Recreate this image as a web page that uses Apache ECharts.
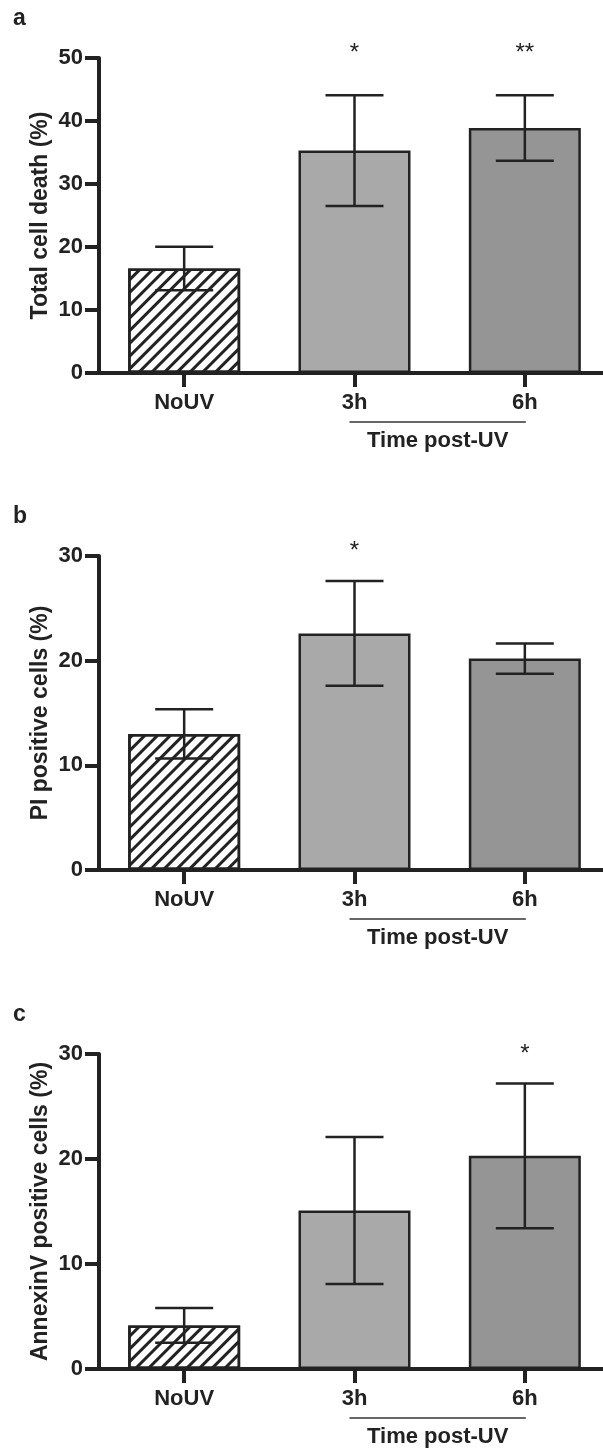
<!DOCTYPE html>
<html>
<head>
<meta charset="utf-8">
<script src="https://cdn.jsdelivr.net/npm/echarts@6/dist/echarts.min.js"></script>
<style>
  html, body { margin: 0; padding: 0; background: #fff; overflow: hidden; }
  #chart { width: 620px; height: 1451px; }
</style>
</head>
<body>
<div id="chart"></div>
<script>
// categories and values (mean and error)
const categories = ['NoUV', '3h', '6h']
const totalDeathMean = [16.6, 35.3, 38.9]
const totalDeathErr = [3.45, 8.8, 5.2]
const piMean = [13.0, 22.6, 20.2]
const piErr = [2.35, 5.0, 1.45]
const annexinMean = [4.15, 15.1, 20.3]
const annexinErr = [1.65, 7.0, 6.9]
const starsA = ['', '*', '**']
const starsB = ['', '*', '']
const starsC = ['', '', '*']
const yTicksTotal = [0, 10, 20, 30, 40, 50]
const yTicksCells = [0, 10, 20, 30]

const FONT = '"Liberation Sans", Arial, Helvetica, sans-serif'
const INK = '#222222'
const barColors = ['#ffffff', '#a9a9a9', '#959595']

const panels = [
  { letter: 'a', name: 'Total cell death (%)', mean: totalDeathMean, err: totalDeathErr, stars: starsA, ticks: yTicksTotal, top: 58, height: 315, starGap: 42 },
  { letter: 'b', name: 'PI positive cells (%)', mean: piMean, err: piErr, stars: starsB, ticks: yTicksCells, top: 556, height: 314, starGap: 30 },
  { letter: 'c', name: 'AnnexinV positive cells (%)', mean: annexinMean, err: annexinErr, stars: starsC, ticks: yTicksCells, top: 1054, height: 315, starGap: 29 }
]

const hatch = {
  symbol: 'rect',
  symbolSize: 1,
  color: INK,
  dashArrayX: [1, 0],
  dashArrayY: [2.5, 5.5],
  rotation: -Math.PI / 4
}

function errorRenderer (stars, starGap) {
  return function (params, api) {
    const x = api.value(0)
    const m = api.value(1)
    const e = api.value(2)
    const hi = api.coord([x, m + e])
    const lo = api.coord([x, m - e])
    const cx = hi[0]
    const hw = 29
    const st = { stroke: INK, lineWidth: 2.5 }
    const children = [
      { type: 'line', shape: { x1: cx, y1: hi[1], x2: cx, y2: lo[1] }, style: st },
      { type: 'line', shape: { x1: cx - hw, y1: hi[1], x2: cx + hw, y2: hi[1] }, style: st },
      { type: 'line', shape: { x1: cx - hw, y1: lo[1], x2: cx + hw, y2: lo[1] }, style: st }
    ]
    const s = stars[params.dataIndex]
    if (s) {
      children.push({
        type: 'text',
        x: cx,
        y: hi[1] - starGap,
        style: { text: s, fill: INK, font: '24px ' + FONT, align: 'center', verticalAlign: 'middle' }
      })
    }
    return { type: 'group', children: children }
  }
}

const grid = []
const xAxis = []
const yAxis = []
const series = []

panels.forEach(function (p, i) {
  grid.push({ left: 99, top: p.top, width: 511, height: p.height })
  xAxis.push({
    type: 'category',
    gridIndex: i,
    data: categories,
    axisLine: { lineStyle: { color: INK, width: 4 } },
    axisTick: { show: true, alignWithLabel: true, length: 14, lineStyle: { color: INK, width: 4 } },
    axisLabel: { margin: 19, color: INK, fontFamily: FONT, fontWeight: 'bold', fontSize: 22 },
    splitLine: { show: false }
  })
  yAxis.push({
    type: 'value',
    gridIndex: i,
    min: p.ticks[0],
    max: p.ticks[p.ticks.length - 1],
    interval: p.ticks[1] - p.ticks[0],
    name: p.name,
    nameLocation: 'middle',
    nameRotate: 90,
    nameGap: 47,
    nameMoveOverlap: false,
    nameTextStyle: { color: INK, fontFamily: FONT, fontWeight: 'bold', fontSize: 23 },
    axisLine: { show: true, lineStyle: { color: INK, width: 4 } },
    axisTick: { show: true, length: 14, lineStyle: { color: INK, width: 4 } },
    axisLabel: { margin: 16, color: INK, fontFamily: FONT, fontWeight: 'bold', fontSize: 22 },
    splitLine: { show: false }
  })
  series.push({
    type: 'bar',
    xAxisIndex: i,
    yAxisIndex: i,
    barWidth: 112,
    z: 2,
    itemStyle: { borderColor: INK, borderWidth: 2.5 },
    data: p.mean.map(function (v, j) {
      const style = { color: barColors[j], borderColor: INK, borderWidth: 2.5 }
      if (j === 0) style.decal = hatch
      return { value: v, itemStyle: style }
    })
  })
  series.push({
    type: 'custom',
    xAxisIndex: i,
    yAxisIndex: i,
    z: 5,
    renderItem: errorRenderer(p.stars, p.starGap),
    encode: { x: 0, y: 1 },
    data: p.mean.map(function (v, j) { return [j, v, p.err[j]] })
  })
})

const chart = echarts.init(document.getElementById('chart'), null, { renderer: 'canvas' })
chart.setOption({
  backgroundColor: '#ffffff',
  animation: false,
  grid: grid,
  xAxis: xAxis,
  yAxis: yAxis,
  series: series
})

// panel letters and the "Time post-UV" bracket under 3h..6h
const graphic = []
panels.forEach(function (p, i) {
  const x3 = chart.convertToPixel({ xAxisIndex: i }, '3h')
  const x6 = chart.convertToPixel({ xAxisIndex: i }, '6h')
  const y0 = chart.convertToPixel({ yAxisIndex: i }, 0)
  graphic.push({
    type: 'text', left: 13, top: p.top - 51,
    style: { text: p.letter, fill: INK, font: 'bold 23px ' + FONT }
  })
  graphic.push({
    type: 'line',
    shape: { x1: x3 - 5, y1: y0 + 49, x2: x6 + 1, y2: y0 + 49 },
    style: { stroke: '#333', lineWidth: 1.6 }
  })
  graphic.push({
    type: 'text',
    x: (x3 + x6) / 2 - 2,
    y: y0 + 68,
    style: { text: 'Time post-UV', fill: INK, font: 'bold 22px ' + FONT, align: 'center', verticalAlign: 'middle' }
  })
})
chart.setOption({ graphic: graphic })
</script>
</body>
</html>
